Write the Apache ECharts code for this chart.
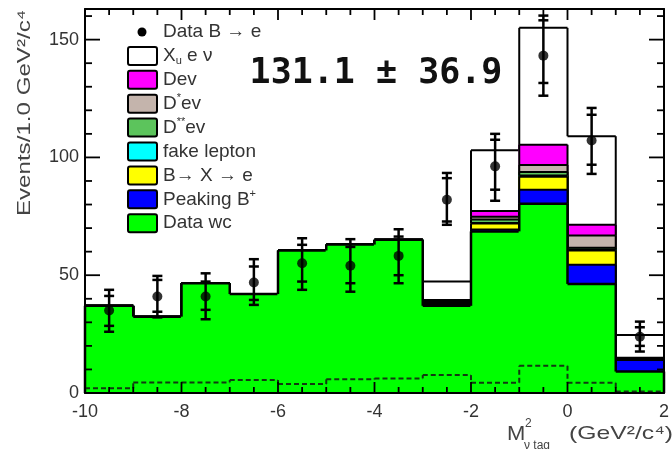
<!DOCTYPE html>
<html>
<head>
<meta charset="utf-8">
<script src="https://cdn.jsdelivr.net/npm/echarts@6/dist/echarts.min.js"></script>
<style>
  html, body { margin: 0; padding: 0; background: #ffffff; }
  #chart { width: 672px; height: 449px; }
</style>
</head>
<body>
<div id="chart"></div>
<script>
// Bin lower edges of the missing-mass-squared histogram (GeV^2/c^4), width 1
const binLow = [-10, -9, -8, -7, -6, -5, -4, -3, -2, -1, 0, 1];
const binWidth = 1;

// Stacked contributions, bottom to top (events per bin)
const dataWc     = [37.0, 32.4, 46.6, 42.0, 60.5, 63.0, 65.0, 37.0, 68.6, 80.3, 46.3, 9.1];
const peakingB   = [0, 0, 0, 0, 0, 0, 0, 0.4, 0.8, 6.0, 8.1, 4.9];
const bToXToE    = [0, 0, 0, 0, 0, 0, 0, 0.6, 2.5, 5.5, 6.1, 0.3];
const fakeLepton = [0, 0, 0, 0, 0, 0, 0, 0.2, 0.3, 0.5, 0.4, 0.2];
const dssEnu     = [0, 0, 0, 0, 0, 0, 0, 0.4, 1.4, 1.5, 0.8, 0.2];
const dsEnu      = [0, 0, 0, 0, 0, 0, 0, 0.5, 1.2, 3.0, 5.2, 0.2];
const dEnu       = [0, 0, 0, 0, 0, 0, 0, 0.4, 2.5, 8.6, 4.5, 0.1];
const xuEnu      = [0, 0, 0, 0, 0, 0, 0, 7.8, 25.7, 49.6, 37.6, 9.6];

// Dashed reference histogram near the bottom
const wcDashed   = [2.0, 4.5, 4.5, 5.5, 3.8, 5.8, 6.2, 7.6, 4.4, 11.6, 4.4, 0.6];

// Data points with statistical (inner caps) and total (outer caps) errors
const dataVal = [35.0, 41.0, 41.0, 46.9, 55.1, 54.0, 58.2, 82.0, 96.2, 143.2, 107.2, 23.9];
const statHi  = [41.2, 48.0, 47.3, 53.7, 62.9, 62.0, 66.4, 91.2, 107.5, 158.2, 118.1, 27.9];
const statLo  = [28.5, 34.5, 35.3, 39.5, 47.3, 46.6, 50.0, 72.8, 86.3, 131.6, 96.9, 20.0];
const totHi   = [43.8, 49.7, 50.8, 56.8, 65.7, 65.3, 69.5, 93.4, 110.0, 160.2, 121.0, 30.3];
const totLo   = [26.0, 32.1, 31.3, 37.4, 43.8, 43.0, 46.6, 71.4, 81.6, 126.2, 93.0, 17.6];

// Axis ranges and tick labels
const xMin = -10, xMax = 2, xStep = 2, xMinorStep = 0.5;
const yMin = 0, yMax = 163, yStep = 50, yMinorStep = 10;
const xTicks = [-10, -8, -6, -4, -2, 0, 2];
const yTicks = [0, 50, 100, 150];

const signalText = '131.1 ± 36.9';

const layers = [
  { name: 'Data wc',      values: dataWc,     color: '#00ff00' },
  { name: 'Peaking B+',   values: peakingB,   color: '#0000ff' },
  { name: 'B→ X → e',     values: bToXToE,    color: '#ffff00' },
  { name: 'fake lepton',  values: fakeLepton, color: '#00ffff' },
  { name: 'D**ev',        values: dssEnu,     color: '#5cc45c' },
  { name: 'D*ev',         values: dsEnu,      color: '#c4b4ac' },
  { name: 'Dev',          values: dEnu,       color: '#ff00ff' },
  { name: 'Xu e nu',      values: xuEnu,      color: '#ffffff' }
];

// cumulative sums for the stack
const cumulative = [];
layers.forEach((layer, k) => {
  cumulative.push(layer.values.map((v, i) => (k ? cumulative[k - 1][i] : 0) + v));
});

function stepSeries(k) {
  const cum = cumulative[k];
  const data = binLow.map((lo, i) => [lo, lo + binWidth, cum[i], i ? cum[i - 1] : 0, i === binLow.length - 1 ? 1 : 0]);
  const fill = layers[k].color;
  const lw = k === 0 ? 2.5 : 2;
  return {
    type: 'custom',
    name: layers[k].name,
    data: data,
    silent: true,
    renderItem: function (params, api) {
      const lo = api.value(0), hi = api.value(1), top = api.value(2), prev = api.value(3), last = api.value(4);
      const a = api.coord([lo, 0]);
      const b = api.coord([hi, top]);
      const p = api.coord([lo, prev]);
      const children = [
        // slight overlap between neighbouring bins avoids anti-aliasing seams
        { type: 'rect', shape: { x: a[0] - 0.6, y: b[1], width: b[0] - a[0] + 1.2, height: a[1] - b[1] }, style: { fill: fill } },
        { type: 'line', shape: { x1: a[0], y1: b[1], x2: b[0], y2: b[1] }, style: { stroke: '#000', lineWidth: lw } },
        { type: 'line', shape: { x1: a[0], y1: p[1], x2: a[0], y2: b[1] }, style: { stroke: '#000', lineWidth: lw } }
      ];
      if (last) {
        children.push({ type: 'line', shape: { x1: b[0], y1: b[1], x2: b[0], y2: a[1] }, style: { stroke: '#000', lineWidth: lw } });
      }
      return { type: 'group', children: children };
    }
  };
}

const series = [];
for (let k = layers.length - 1; k >= 0; k--) series.push(stepSeries(k));

// dashed step histogram
series.push({
  type: 'custom',
  name: 'dashed',
  silent: true,
  data: binLow.map((lo, i) => [lo, lo + binWidth, wcDashed[i], i ? wcDashed[i - 1] : 0]),
  renderItem: function (params, api) {
    const lo = api.value(0), hi = api.value(1), v = api.value(2), prev = api.value(3);
    const a = api.coord([lo, v]);
    const b = api.coord([hi, v]);
    const p = api.coord([lo, prev]);
    const st = { stroke: '#123812', lineWidth: 2, lineDash: [5, 3] };
    return {
      type: 'group',
      children: [
        { type: 'line', shape: { x1: a[0], y1: a[1], x2: b[0], y2: b[1] }, style: st },
        { type: 'line', shape: { x1: a[0], y1: p[1], x2: a[0], y2: a[1] }, style: st }
      ]
    };
  }
});

// frame ticks on all four sides, placed with the axis scales
const xTickVals = [];
for (let i = 0; xMin + i * xMinorStep <= xMax + 1e-9; i++) xTickVals.push(xMin + i * xMinorStep);
const yTickVals = [];
for (let i = 0; yMin + i * yMinorStep <= yMax + 1e-9; i++) yTickVals.push(yMin + i * yMinorStep);

function frameTickShapes(api) {
  const out = [];
  xTickVals.forEach((v) => {
    const major = Math.abs(v / xStep - Math.round(v / xStep)) < 1e-9;
    const len = major ? 11 : 6;
    const st = { stroke: '#000', lineWidth: 2 };
    const b = api.coord([v, yMin]);
    const t = api.coord([v, yMax]);
    out.push({ type: 'rect', shape: { x: b[0] - 0.9, y: b[1] - len, width: 1.8, height: len }, style: { fill: '#000' } });
    out.push({ type: 'rect', shape: { x: t[0] - 0.9, y: t[1], width: 1.8, height: len }, style: { fill: '#000' } });
  });
  yTickVals.forEach((v) => {
    const major = v % yStep === 0;
    const len = major ? 15 : 7;
    const l = api.coord([xMin, v]);
    const r = api.coord([xMax, v]);
    out.push({ type: 'rect', shape: { x: l[0], y: l[1] - 0.9, width: len, height: 1.8 }, style: { fill: '#000' } });
    out.push({ type: 'rect', shape: { x: r[0] - len, y: r[1] - 0.9, width: len, height: 1.8 }, style: { fill: '#000' } });
  });
  return out;
}

// error bars (the first item also carries the frame ticks)
series.push({
  type: 'custom',
  name: 'errors',
  silent: true,
  z: 4,
  data: binLow.map((lo, i) => [lo + binWidth / 2, totLo[i], totHi[i], statLo[i], statHi[i]]),
  renderItem: function (params, api) {
    const x = api.value(0);
    const tl = api.coord([x, api.value(1)]);
    const th = api.coord([x, api.value(2)]);
    const sl = api.coord([x, api.value(3)]);
    const sh = api.coord([x, api.value(4)]);
    const st = { stroke: '#000', lineWidth: 2.5 };
    const cap = (pt) => ({ type: 'line', shape: { x1: pt[0] - 5, y1: pt[1], x2: pt[0] + 5, y2: pt[1] }, style: st });
    let children = [
      { type: 'line', shape: { x1: tl[0], y1: tl[1], x2: th[0], y2: th[1] }, style: st },
      cap(tl), cap(th), cap(sl), cap(sh)
    ];
    if (params.dataIndex === 0) children = children.concat(frameTickShapes(api));
    return { type: 'group', children: children };
  }
});

series.push({
  type: 'scatter',
  name: 'Data',
  silent: true,
  z: 5,
  symbol: 'circle',
  symbolSize: 10,
  itemStyle: { color: '#000' },
  data: binLow.map((lo, i) => [lo + binWidth / 2, dataVal[i]])
});

const axisFont = { fontFamily: '"Liberation Sans", Arial, sans-serif', fontSize: 18, color: '#333' };

// axes sit on their own layer so the frame lines stay above the filled stack
function xAxisDef(pos, showLabel) {
  return {
    type: 'value', position: pos, min: xMin, max: xMax, interval: xStep, zlevel: 1,
    axisLine: { show: true, onZero: false, lineStyle: { color: '#000', width: 2 } },
    axisTick: { show: false },
    minorTick: { show: false },
    splitLine: { show: false },
    axisLabel: Object.assign({ show: showLabel, margin: 10,
      formatter: (v) => (xTicks.indexOf(v) >= 0 ? String(v) : '') }, axisFont)
  };
}
function yAxisDef(pos, showLabel) {
  return {
    type: 'value', position: pos, min: yMin, max: yMax, interval: yStep, zlevel: 1,
    axisLine: { show: true, onZero: false, lineStyle: { color: '#000', width: 2 } },
    axisTick: { show: false },
    minorTick: { show: false },
    splitLine: { show: false },
    axisLabel: Object.assign({ show: showLabel, margin: 6,
      formatter: (v) => (yTicks.indexOf(v) >= 0 ? String(v) : '') }, axisFont)
  };
}

// legend drawn as graphic elements
const legendLabels = [
  { rich: 'Data B → e', marker: 'dot' },
  { rich: '{n|X}{sub|u}{n| e ν}', fill: '#ffffff' },
  { rich: 'Dev', fill: '#ff00ff' },
  { rich: '{n|D}{sup|*}{n|ev}', fill: '#c4b4ac' },
  { rich: '{n|D}{sup|**}{n|ev}', fill: '#5cc45c' },
  { rich: 'fake lepton', fill: '#00ffff' },
  { rich: 'B→ X → e', fill: '#ffff00' },
  { rich: '{n|Peaking B}{sup|+}', fill: '#0000ff' },
  { rich: 'Data wc', fill: '#00ff00' }
];
const textFont = '"Liberation Sans", Arial, sans-serif';
const richStyles = {
  n: { fontFamily: textFont, fontSize: 19, fill: '#333', lineHeight: 22, verticalAlign: 'middle' },
  sup: { fontFamily: textFont, fontSize: 11, fill: '#333', lineHeight: 22, verticalAlign: 'top' },
  sub: { fontFamily: textFont, fontSize: 11, fill: '#333', lineHeight: 22, verticalAlign: 'bottom' }
};
const graphics = [];
legendLabels.forEach((e, i) => {
  const yc = 32 + i * 23.9;
  if (e.marker === 'dot') {
    graphics.push({ type: 'circle', shape: { cx: 142, cy: yc, r: 4.5 }, style: { fill: '#000' }, z: 20 });
  } else {
    graphics.push({ type: 'rect', shape: { x: 128, y: yc - 9, width: 29, height: 18, r: 2 },
      style: { fill: e.fill, stroke: '#000', lineWidth: 2 }, z: 20 });
  }
  const plain = e.rich.indexOf('{') < 0;
  graphics.push({ type: 'text', x: 163, y: yc, z: 20,
    style: plain
      ? { text: e.rich, font: '19px ' + textFont, fill: '#333', verticalAlign: 'middle' }
      : { text: e.rich, rich: richStyles, verticalAlign: 'middle', fill: '#333' } });
});

graphics.push({ type: 'text', x: 376, y: 74, z: 20,
  style: { text: signalText, font: 'bold 35px "DejaVu Sans Mono", monospace', fill: '#111', align: 'center', verticalAlign: 'middle' } });

// axis titles
graphics.push({ type: 'text', x: 25, y: 113, rotation: Math.PI / 2, scaleX: 1.27, z: 20,
  style: { text: 'Events/1.0 GeV²/c⁴', font: '19px ' + textFont, fill: '#444', align: 'center', verticalAlign: 'middle' } });
graphics.push({ type: 'text', x: 507, y: 434, scaleX: 1.1, z: 20,
  style: { text: 'M', font: '20px ' + textFont, fill: '#444', verticalAlign: 'middle' } });
graphics.push({ type: 'text', x: 525, y: 424, z: 20,
  style: { text: '2', font: '12px ' + textFont, fill: '#444', verticalAlign: 'middle' } });
graphics.push({ type: 'text', x: 524, y: 446, z: 20,
  style: { text: 'ν tag', font: '12px ' + textFont, fill: '#444', verticalAlign: 'middle' } });
graphics.push({ type: 'text', x: 673, y: 434, scaleX: 1.3, z: 20,
  style: { text: '(GeV²/c⁴)', font: '19px ' + textFont, fill: '#444', align: 'right', verticalAlign: 'middle' } });

const chart = echarts.init(document.getElementById('chart'), null, { renderer: 'canvas' });
chart.setOption({
  animation: false,
  grid: { left: 85, right: 3, top: 9, bottom: 56 },
  xAxis: [xAxisDef('bottom', true), xAxisDef('top', false)],
  yAxis: [yAxisDef('left', true), yAxisDef('right', false)],
  series: series,
  graphic: graphics
});
</script>
</body>
</html>
